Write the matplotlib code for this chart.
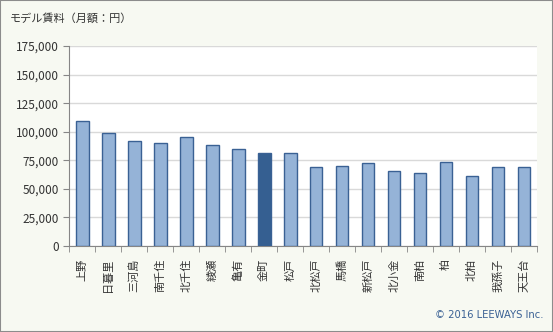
import matplotlib
matplotlib.use('Agg')
import matplotlib.pyplot as plt
from matplotlib.ticker import FuncFormatter, MultipleLocator

plt.rcParams['font.family'] = ['Noto Sans CJK JP', 'DejaVu Sans']

# 駅ごとのモデル賃料（円）
stations = ['上野', '日暮里', '三河島', '南千住', '北千住', '綾瀬', '亀有', '金町', '松戸',
            '北松戸', '馬橋', '新松戸', '北小金', '南柏', '柏', '北柏', '我孫子', '天王台']
rents = [109000, 98500, 91500, 89800, 95000, 88000, 84500, 81200, 81000,
         69500, 70400, 72200, 65200, 64300, 73900, 61600, 69500, 68700]
highlight = '金町'

fig = plt.figure(figsize=(5.53, 3.32), dpi=100, facecolor='#f7f9f2')
ax = fig.add_axes([0.1253, 0.259, 0.8457, 0.6024])
ax.set_facecolor('white')

colors = ['#355f91' if s == highlight else '#95b3d7' for s in stations]
x = range(len(stations))
ax.bar(x, rents, width=0.49, color=colors, edgecolor='#3a6194', linewidth=1.0, zorder=3)

ax.set_xlim(-0.5, len(stations) - 0.5)
ax.set_ylim(0, 175000)
ax.yaxis.set_major_locator(MultipleLocator(25000))
ax.yaxis.set_major_formatter(FuncFormatter(lambda v, p: f'{int(v):,}'))
ax.grid(axis='y', color='#d9d9d9', linewidth=1.0, zorder=0)

# 駅名は90度回転
ax.set_xticks(list(x))
ax.set_xticklabels(stations, rotation=90, ha='center', va='top')
ax.set_xticks([i - 0.5 for i in range(len(stations) + 1)], minor=True)
ax.tick_params(axis='x', which='major', length=0, pad=9, labelsize=8, colors='#333333')
ax.tick_params(axis='x', which='minor', length=4, color='#868686', direction='out')
ax.tick_params(axis='y', length=4, color='#868686', labelsize=8.5, labelcolor='#333333')

for side in ['top', 'right']:
    ax.spines[side].set_visible(False)
for side in ['left', 'bottom']:
    ax.spines[side].set_color('#868686')

fig.text(0.018, 0.945, 'モデル賃料（月額：円）', fontsize=8, color='#333333', va='center')
fig.text(0.982, 0.052, '© 2016 LEEWAYS Inc.', fontsize=7.2, color='#3a6194',
         ha='right', va='center', family=['DejaVu Sans'])

# 外枠
fig.patches.append(plt.Rectangle((0, 0), 1, 1, transform=fig.transFigure, fill=False,
                                 edgecolor='#8c8c8c', linewidth=1.5))

fig.savefig('out.png', dpi=100, facecolor=fig.get_facecolor())
